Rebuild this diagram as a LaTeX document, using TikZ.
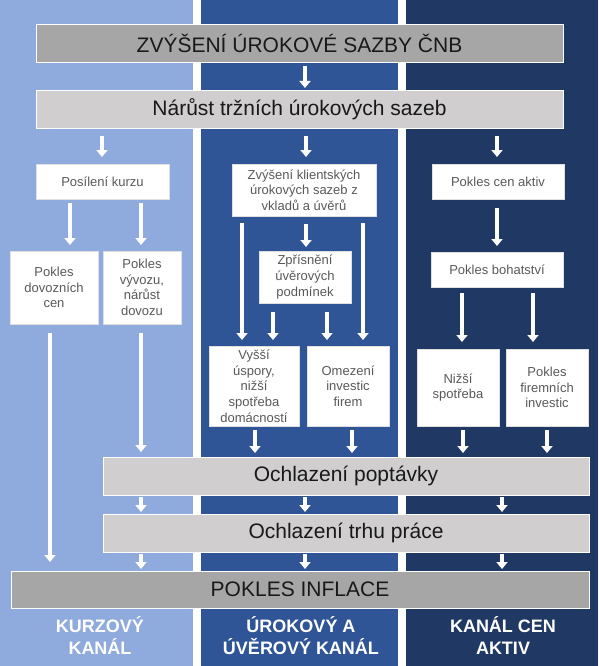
\documentclass[tikz,border=0pt]{standalone}
\usepackage{fontspec}
\setmainfont{Liberation Sans}
\usetikzlibrary{arrows.meta}
\definecolor{colA}{HTML}{8FAADC}
\definecolor{colB}{HTML}{2F5597}
\definecolor{colC}{HTML}{203864}
\definecolor{boxdark}{HTML}{A6A6A6}
\definecolor{boxlight}{HTML}{D0CECE}
\definecolor{txtgray}{HTML}{595959}
\begin{document}
\begin{tikzpicture}[x=1pt,y=-1pt,
  box/.style={line width=0.8pt, outer sep=0pt, inner sep=1pt, align=center},
  wbox/.style={box, fill=white, draw=gray!25, text=txtgray, font=\fontsize{13}{15.7}\selectfont},
  gbox/.style={box, draw=white, text=black!90, font=\fontsize{21}{25}\selectfont},
  dbox/.style={gbox, fill=boxdark},
  lbox/.style={gbox, fill=boxlight},
  lab/.style={text=white, align=center, font=\bfseries\fontsize{18}{22}\selectfont},
  arr/.style={draw=white, line width=4.5pt, -{Triangle[width=11pt,length=7pt]}}
]
\useasboundingbox (0,0) rectangle (598,666);
% background columns
\fill[white] (0,0) rectangle (598,666);
\fill[colA] (0,0) rectangle (193,666);
\fill[colB] (201,0) rectangle (398,666);
\fill[colC] (406,0) rectangle (598,666);

% boxes
\node[dbox, minimum width=527pt, minimum height=38pt] (top) at (299.5,43) {ZVÝŠENÍ ÚROKOVÉ SAZBY ČNB};
\node[lbox, minimum width=527pt, minimum height=38pt] (nar) at (299.5,109) {Nárůst tržních úrokových sazeb};

\node[wbox, minimum width=133pt, minimum height=35pt] (kurz) at (102.5,181.5) {Posílení kurzu};
\node[wbox, minimum width=144pt, minimum height=52pt] (klient) at (304,190) {Zvýšení klientských\\úrokových sazeb z\\vkladů a úvěrů};
\node[wbox, minimum width=132pt, minimum height=35pt] (aktiv) at (498,181.5) {Pokles cen aktiv};

\node[wbox, minimum width=88pt, minimum height=73pt] (dov) at (54,287.5) {Pokles\\dovozních\\cen};
\node[wbox, minimum width=78pt, minimum height=73pt] (vyv) at (142,287.5) {Pokles\\vývozu,\\nárůst\\dovozu};
\node[wbox, minimum width=92pt, minimum height=52pt] (zpr) at (305,277) {Zpřísnění\\úvěrových\\podmínek};
\node[wbox, minimum width=132pt, minimum height=35pt] (bohat) at (497,269.5) {Pokles bohatství};

\node[wbox, minimum width=90pt, minimum height=80pt] (usp) at (254,386) {Vyšší\\úspory,\\nižší\\spotřeba\\domácností};
\node[wbox, minimum width=82pt, minimum height=80pt] (omez) at (348,386) {Omezení\\investic\\firem};
\node[wbox, minimum width=82pt, minimum height=77pt] (nizsi) at (458,387.5) {Nižší\\spotřeba};
\node[wbox, minimum width=82pt, minimum height=77pt] (firem) at (547,387.5) {Pokles\\firemních\\investic};

\node[lbox, minimum width=486pt, minimum height=38pt] (popt) at (346,476) {Ochlazení poptávky};
\node[lbox, minimum width=486pt, minimum height=38pt] (trh) at (346,533) {Ochlazení trhu práce};
\node[dbox, minimum width=578pt, minimum height=37pt] (infl) at (300,589.5) {POKLES INFLACE};

% labels
\node[lab] (l1) at (100,636) {KURZOVÝ\\KANÁL};
\node[lab] (l2) at (301,636) {ÚROKOVÝ A\\ÚVĚROVÝ KANÁL};
\node[lab] (l3) at (503,636) {KANÁL CEN\\AKTIV};

% arrows
\draw[arr, shorten <=4pt, shorten >=2pt] (top.south -| 305,0) -- (nar.north -| 305,0);
\draw[arr, shorten <=8pt, shorten >=7pt] (nar.south -| 102,0) -- (kurz.north -| 102,0);
\draw[arr, shorten <=8pt, shorten >=7pt] (nar.south -| 306,0) -- (klient.north -| 306,0);
\draw[arr, shorten <=8pt, shorten >=7pt] (nar.south -| 497,0) -- (aktiv.north -| 497,0);

\draw[arr, shorten <=4pt, shorten >=6pt] (kurz.south -| 70,0) -- (dov.north -| 70,0);
\draw[arr, shorten <=4pt, shorten >=6pt] (kurz.south -| 141,0) -- (vyv.north -| 141,0);
\draw[arr, shorten <=8pt, shorten >=4pt] (klient.south -| 306,0) -- (zpr.north -| 306,0);
\draw[arr, shorten <=9pt, shorten >=6pt] (aktiv.south -| 497,0) -- (bohat.north -| 497,0);

\draw[arr, shorten <=7pt, shorten >=6pt] (klient.south -| 242,0) -- (usp.north -| 242,0);
\draw[arr, shorten <=7pt, shorten >=6pt] (klient.south -| 363,0) -- (omez.north -| 363,0);
\draw[arr, shorten <=9pt, shorten >=6pt] (zpr.south -| 273,0) -- (usp.north -| 273,0);
\draw[arr, shorten <=9pt, shorten >=6pt] (zpr.south -| 327,0) -- (omez.north -| 327,0);
\draw[arr, shorten <=6pt, shorten >=7pt] (bohat.south -| 462,0) -- (nizsi.north -| 462,0);
\draw[arr, shorten <=6pt, shorten >=7pt] (bohat.south -| 533,0) -- (firem.north -| 533,0);

\draw[arr, shorten <=9pt, shorten >=9pt] (dov.south -| 50,0) -- (infl.north -| 50,0);
\draw[arr, shorten <=9pt, shorten >=5pt] (vyv.south -| 141,0) -- (popt.north -| 141,0);
\draw[arr, shorten <=4pt, shorten >=4pt] (usp.south -| 255,0) -- (popt.north -| 255,0);
\draw[arr, shorten <=4pt, shorten >=4pt] (omez.south -| 352,0) -- (popt.north -| 352,0);
\draw[arr, shorten <=4pt, shorten >=4pt] (nizsi.south -| 463,0) -- (popt.north -| 463,0);
\draw[arr, shorten <=4pt, shorten >=4pt] (firem.south -| 547,0) -- (popt.north -| 547,0);

\foreach \xx in {141,305,502}{
  \draw[arr, shorten <=2pt, shorten >=2pt] (popt.south -| \xx,0) -- (trh.north -| \xx,0);
  \draw[arr, shorten <=2pt, shorten >=2pt] (trh.south -| \xx,0) -- (infl.north -| \xx,0);
}
\end{tikzpicture}
\end{document}
